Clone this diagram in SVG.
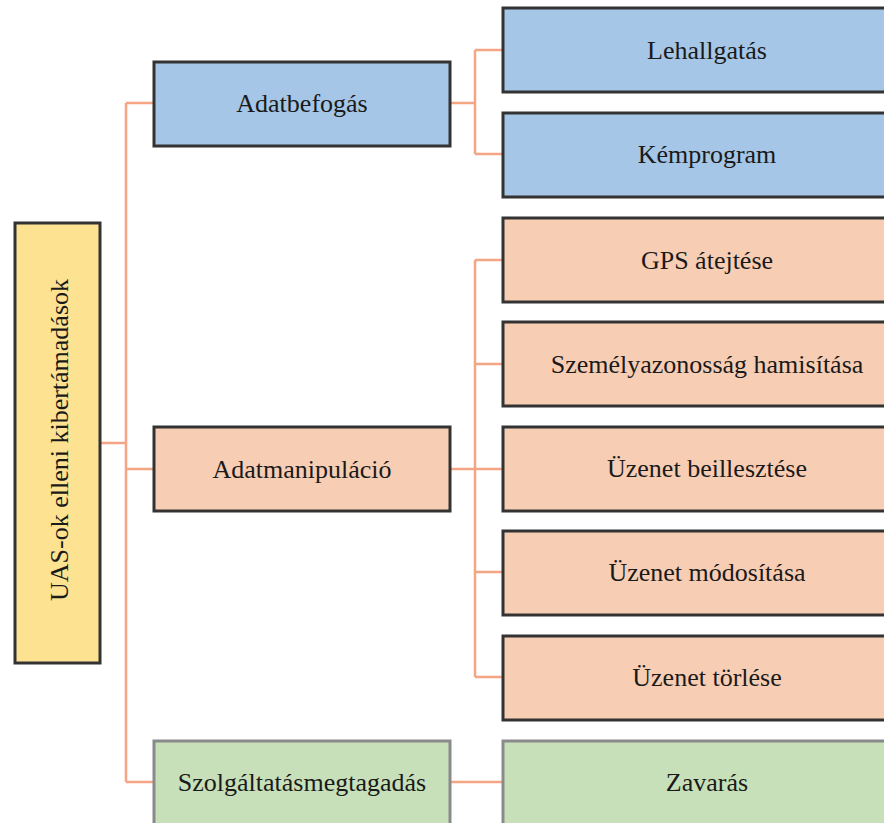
<svg xmlns="http://www.w3.org/2000/svg" width="884" height="823" viewBox="0 0 884 823">
<style>
.box{stroke:#333;stroke-width:3}
.blue{fill:#A5C6E6}
.orange{fill:#F7CDB4}
.green{fill:#C7E0B9;stroke:#8a8a8a}
.yellow{fill:#FDE292}
.t{font-family:"Liberation Serif","Times New Roman",serif;font-size:26px;fill:#1a1a1a;text-anchor:middle}
.c{fill:none;stroke:#F4A584;stroke-width:2.5}
</style>
<rect width="884" height="823" fill="#fff"/>
<g id="connectors">
<path class="c" d="M100 443H126M126 103V782M126 103H154M126 469H154M126 782H154"/>
<path class="c" d="M450 103H475M475 50V154M475 50H503M475 154H503"/>
<path class="c" d="M450 469H503M475 260V677M475 260H503M475 364H503M475 572H503M475 677H503"/>
<path class="c" d="M450 782H503"/>
</g>
<g id="root"><rect class="box yellow" x="15" y="223" width="85" height="440"/><text class="t" transform="translate(68,440) rotate(-90)" x="0" y="0">UAS-ok elleni kibertámadások</text></g>
<g id="adatbefogas"><rect class="box blue" x="154" y="62" width="296" height="84"/><text class="t" x="302" y="112">Adatbefogás</text></g>
<g id="adatmanipulacio"><rect class="box orange" x="154" y="427" width="296" height="84"/><text class="t" x="302" y="478">Adatmanipuláció</text></g>
<g id="szolgaltatasmegtagadas"><rect class="box green" x="154" y="741" width="296" height="90"/><text class="t" x="302" y="791">Szolgáltatásmegtagadás</text></g>
<g id="lehallgatas"><rect class="box blue" x="503" y="8" width="408" height="84"/><text class="t" x="707" y="59">Lehallgatás</text></g>
<g id="kemprogram"><rect class="box blue" x="503" y="113" width="408" height="84"/><text class="t" x="707" y="163">Kémprogram</text></g>
<g id="gps"><rect class="box orange" x="503" y="218" width="408" height="84"/><text class="t" x="707" y="269">GPS átejtése</text></g>
<g id="szemelyazonossag"><rect class="box orange" x="503" y="322" width="408" height="84"/><text class="t" x="707" y="373">Személyazonosság hamisítása</text></g>
<g id="beillesztes"><rect class="box orange" x="503" y="427" width="408" height="84"/><text class="t" x="707" y="477">Üzenet beillesztése</text></g>
<g id="modositas"><rect class="box orange" x="503" y="531" width="408" height="84"/><text class="t" x="707" y="581">Üzenet módosítása</text></g>
<g id="torles"><rect class="box orange" x="503" y="636" width="408" height="84"/><text class="t" x="707" y="686">Üzenet törlése</text></g>
<g id="zavaras"><rect class="box green" x="503" y="741" width="408" height="90"/><text class="t" x="707" y="791">Zavarás</text></g>
</svg>
